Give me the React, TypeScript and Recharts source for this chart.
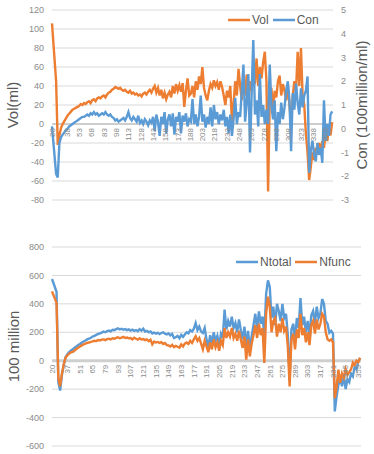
import React from 'react';
import { LineChart, Line, XAxis, YAxis, CartesianGrid, ReferenceLine, Legend, Label } from 'recharts';

// Category (day) values
const days = [
  20, 25, 27, 29, 31, 33, 35, 37, 39, 41,
  43, 45, 47, 49, 51, 53, 55, 57, 59, 61,
  63, 65, 67, 69, 71, 73, 75, 77, 79, 81,
  83, 85, 87, 89, 91, 93, 95, 97, 99, 101,
  103, 105, 107, 109, 111, 113, 115, 117, 119, 121,
  123, 125, 127, 129, 131, 133, 135, 137, 139, 141,
  143, 145, 147, 149, 151, 153, 155, 157, 159, 161,
  163, 165, 167, 169, 171, 173, 175, 177, 179, 181,
  183, 185, 187, 189, 191, 193, 195, 197, 199, 201,
  203, 205, 207, 209, 211, 213, 215, 217, 219, 221,
  223, 225, 227, 229, 231, 233, 235, 237, 239, 241,
  243, 245, 247, 249, 251, 253, 255, 257, 259, 261,
  263, 265, 267, 269, 271, 273, 275, 277, 279, 281,
  283, 285, 287, 289, 291, 293, 295, 297, 299, 301,
  303, 305, 307, 309, 311, 313, 315, 317, 319, 321,
  323, 325, 327, 329, 331, 333, 335, 337, 339, 341,
  343, 345, 347, 349, 351, 353, 355, 357, 359, 361,
];

// Vol (ml), left axis of the upper chart
const vol = [
  106, 45, -22, -12, -4, 0, 3, 6, 9, 11,
  13, 15, 16, 17, 18, 19, 21, 20, 22, 21,
  23, 24, 22, 25, 26, 24, 27, 28, 27, 29,
  30, 28, 31, 33, 34, 36, 37, 39, 38, 37,
  38, 36, 35, 36, 34, 33, 35, 32, 33, 31,
  32, 30, 31, 29, 32, 33, 31, 34, 36, 33,
  37, 40, 33, 38, 30, 36, 27, 33, 26, 31,
  34, 28, 40, 32, 42, 35, 41, 34, 43, 18,
  35, 48, 30,
  32, 40, 28, 45, 36, 50, 42, 60, 38, 30,
  25, 35, 42, 38, 46, 40, 44, 36, 45, 39,
  30, 20, 35, 28, 40, 2, 22, 45, 30, 58,
  40, 25, 48, 30, 52, 20, 45, 35, 55, 42,
  69, 40, 60, 48, 65, 76, 45, -71, 25, 38,
  15, 35, 28, 45, 51, 30, 42, 35, 25, 40,
  20, -1, 30, 45, 35, 76, 40, 80, 30, 20,
  -10, -30, -59, -45, -30, -38, -25, -32, -20, -28,
  -18, -25, -10, -18, -5, -12, 2,
];

// Con (100million/ml), right axis of the upper chart
const con = [
  0.1, -1.9, -2.05, -0.6, -0.35, -0.25, -0.15, -0.05, 0, 0.1,
  0.15, 0.2, 0.25, 0.3, 0.35, 0.4, 0.45, 0.5, 0.5, 0.55,
  0.6, 0.55, 0.65, 0.6, 0.7, 0.6, 0.65, 0.55, 0.6, 0.65,
  0.6, 0.7, 0.6, 0.55, 0.6, 0.5, 0.45, 0.35, 0.4, 0.3,
  0.35, 0.4, 0.45, 0.35, 0.5, 0.7, 0.45, 0.35, 0.5, 0.4,
  0.3, 0.55, 0.25, 0.35, 0.2, 0.4, 0.3, 0.15, 0.35, 0.25,
  0.5, -0.1, 0.6, 0.3, -0.3, 0.5, 0.2, 0.7, -0.2, 0.4,
  0.6, 0.1, 0.65, -0.25, 0.5, 0.3, 0.7, -0.2, 0.55, 0.3,
  0.65, 0.1, 0.4,
  0.3, 1.25, 0.2, 0.6, 0.1, 0.5, 1.4, 0.3, 0.6, 0.05,
  0.5, 0.2, 0.9, 0.1, 1.0, 0.4, 0.7, 0.2, 0.6, 0.35,
  0.8, 0.1, 0.5, -0.2, 0.6, -0.3, 0.4, 1.3, 0.2, 0.7,
  0.5, 1.6, 2.7, 0.3, 1.1, 2.3, -1.0, 1.5, 3.74, 0.6,
  1.2, 0.1, 2.3, 0.5, 1.0, 0.2, 0.8, 0.2, 2.7, 1.0,
  0.4, 1.2, -0.95, 0.7, 0.2, 1.1, 0.4, 0.9, 1.6, 2.0,
  1.2, -0.95, 1.5, 0.8, 1.9, 1.1, 0.6, 1.7, 0.9, 1.4,
  1.6, 2.2, -1.85, -0.9, -0.5, -1.1, -1.37, -0.6, -1.1, -0.8,
  -1.44, 1.2, -0.5, 0.2, -0.3, 0.6, 0.73,
];

// Ntotal (100 million), lower chart
const ntotal = [
  575, 485, -150, -210, -100, -30, 25, 45, 60, 72,
  80, 92, 100, 110, 118, 128, 135, 142, 150, 155,
  162, 170, 175, 182, 188, 192, 198, 205, 200, 208,
  212, 206, 218, 215, 222, 228, 220, 225, 218, 222,
  215, 220, 212, 218, 210, 216, 208, 222, 212, 225,
  205, 210, 200, 206, 192, 198, 190, 196, 188, 195,
  200, 190, 185, 192, 178, 188, 160, 165, 175, 158,
  182, 168, 185, 200, 192, 215, 205, 225, 265, 215,
  240, 205, 195, 230,
  150, 95, 180, 120, 200, 140, 175, 110, 190, 160,
  359, 220, 280, 240, 310, 230, 265, 200, 290, 215,
  150, 240, 100, 210, 80, 175, 250, 330, 220, 347,
  260, 310, 180, 470, 565, 520, 300, 380, 250, 400,
  350, 280, 400, 300, 330, 180, -140, 220, 260, 150,
  300, 230, 441, 250, 310, 200, 280, 180, 320, 350,
  260, 380, 300, 330, 434, 400, 280, 260, 197, 210,
  190, -357, -250, -170, -120, -180, -100, -200, -130, -150,
  -90, -110, -40, -60, -5, 19,
];

// Nfunc (100 million), lower chart
const nfunc = [
  488, 408, -120, -180, -90, -25, 20, 38, 50, 58,
  62, 72, 82, 92, 100, 108, 115, 120, 125, 128,
  133, 136, 140, 138, 145, 142, 148, 150, 145, 152,
  155, 150, 158, 154, 160, 165, 158, 162, 168, 160,
  163, 158, 160, 150, 162, 155, 148, 158, 150, 152,
  145, 150, 138, 148, 115, 135, 128, 132, 125, 130,
  118, 125, 110, 108, 100, 112, 95, 104, 98, 92,
  115, 100, 120, 128, 118, 140, 125, 150, 172, 140,
  160, 120, 80, 140,
  100, 60, 130, 80, 150, 95, 130, 70, 140, 110,
  230, 160, 200, 170, 230, 160, 190, 140, 210, 150,
  90, 170, 7, 150, 30, 120, 180, 250, 160, 260,
  180, 230, -16, 330, 450, 380, 200, 280, 300, 170,
  260, 200, 300, 210, 240, 100, -181, 150, 190, 80,
  220, 160, 330, 180, 230, 130, 200, 110, 250, 280,
  190, 290, 220, 260, 330, 310, 200, 150, 140, 150,
  130, -263, -180, -63, -155, -90, -120, -60, -100, -80,
  -60, -14, -30, 0, -10, 21,
];

// Tick labels
const topXTicks = [20, 38, 53, 68, 83, 98, 113, 128, 143, 158, 173, 188, 203, 218, 233, 248, 263, 278, 293, 308, 323, 338, 353];
const bottomXTicks = [20, 37, 51, 65, 79, 93, 107, 121, 135, 149, 163, 177, 191, 205, 219, 233, 247, 261, 275, 289, 303, 317, 331, 345, 359];
const volTicks = [-80, -60, -40, -20, 0, 20, 40, 60, 80, 100, 120];
const conTicks = [-3, -2, -1, 0, 1, 2, 3, 4, 5];
const nTicks = [-600, -400, -200, 0, 200, 400, 600, 800];
const topSeries = ['Vol', 'Con'];
const bottomSeries = ['Ntotal', 'Nfunc'];

const topData = days.map((d, i) => ({ day: d, Vol: vol[i], Con: con[i] }));
const bottomData = days.map((d, i) => ({ day: d, Ntotal: ntotal[i], Nfunc: nfunc[i] }));

const FONT = '"Liberation Sans", Arial, sans-serif';
const ORANGE = '#ED7D31';
const BLUE = '#5B9BD5';
const GRID = '#d9d9d9';
const TICK = '#8a8a8a';
const TITLE = '#595959';
const LINE_W = 2.4;

// layout
const TOP = { h: 230, mt: 10, xh: 30 };
const BOT = { h: 224, mt: 17, xh: 8 };

function zeroPos(cfg: any, min: number, max: number) {
  const plotH = cfg.h - cfg.mt - cfg.xh;
  return cfg.mt + (plotH * max) / (max - min);
}

function makeXTick(zeroY: number) {
  return (props: any) => {
    const { x, payload } = props;
    const y = zeroY + 4;
    return (
      <text
        x={x}
        y={y}
        transform={`rotate(-90, ${x}, ${y})`}
        textAnchor="end"
        dy="0.35em"
        fontSize={8}
        fill={TICK}
        fontFamily={FONT}
      >
        {payload.value}
      </text>
    );
  };
}

function axisTitle(value: string, xOff: number) {
  return (props: any) => {
    const vb = props.viewBox || { x: 0, y: 0, width: 0, height: 0 };
    const cx = vb.x + xOff;
    const cy = vb.y + vb.height / 2;
    return (
      <text
        x={cx}
        y={cy}
        transform={`rotate(-90, ${cx}, ${cy})`}
        textAnchor="middle"
        dy="0.35em"
        fontSize={15}
        fill={TITLE}
        fontFamily={FONT}
      >
        {value}
      </text>
    );
  };
}

function makeLegend(order: string[]) {
  return (props: any) => {
    const items = [...(props.payload || [])].sort(
      (a: any, b: any) => order.indexOf(a.value) - order.indexOf(b.value)
    );
    return (
      <div style={{ display: 'flex', alignItems: 'center', fontFamily: FONT, fontSize: 12, color: TITLE, lineHeight: '14px', whiteSpace: 'nowrap' }}>
        {items.map((it: any) => (
          <span key={it.value} style={{ display: 'flex', alignItems: 'center', marginRight: 4 }}>
            <svg width={22} height={6} style={{ display: 'block' }}>
              <line x1={0} y1={3} x2={22} y2={3} stroke={it.color} strokeWidth={2.5} />
            </svg>
            <span style={{ marginLeft: 2 }}>{it.value}</span>
          </span>
        ))}
      </div>
    );
  };
}

const tickStyle = { fontSize: 9, fill: TICK, fontFamily: FONT };

export default function App() {
  const topZero = zeroPos(TOP, -80, 120);
  const botZero = zeroPos(BOT, -600, 800);
  return (
    <div style={{ position: 'absolute', left: 0, top: 0, width: 374, height: 454, background: '#fff' }}>
      <div style={{ position: 'absolute', left: 0, top: 0 }}>
        <LineChart width={374} height={TOP.h} data={topData} margin={{ top: TOP.mt, right: 0, bottom: 0, left: 0 }}>
          <CartesianGrid vertical={false} stroke={GRID} yAxisId="left" />
          <XAxis
            dataKey="day"
            type="number"
            domain={[20, 362]}
            ticks={topXTicks}
            interval={0}
            height={TOP.xh}
            axisLine={false}
            tickLine={false}
            tick={makeXTick(topZero)}
          />
          <YAxis
            yAxisId="left"
            domain={[-80, 120]}
            ticks={volTicks}
            interval={0}
            width={52}
            axisLine={false}
            tickLine={false}
            tick={tickStyle}
          >
            <Label content={axisTitle('Vol(ml)', 13)} />
          </YAxis>
          <YAxis
            yAxisId="right"
            orientation="right"
            domain={[-3, 5]}
            ticks={conTicks}
            interval={0}
            width={41}
            axisLine={false}
            tickLine={false}
            tick={tickStyle}
          >
            <Label content={axisTitle('Con (100million/ml)', 29)} />
          </YAxis>
          <ReferenceLine y={0} yAxisId="left" stroke="#c4c4c4" strokeWidth={1.5} />
          <Legend
            layout="vertical"
            align="center"
            verticalAlign="middle"
            wrapperStyle={{ left: 228, top: 13, width: 140, height: 14 }}
            content={makeLegend(topSeries)}
          />
          <Line yAxisId="left" dataKey="Vol" name="Vol" stroke={ORANGE} strokeWidth={LINE_W} dot={false} isAnimationActive={false} type="linear" />
          <Line yAxisId="right" dataKey="Con" name="Con" stroke={BLUE} strokeWidth={LINE_W} dot={false} isAnimationActive={false} type="linear" />
        </LineChart>
      </div>
      <div style={{ position: 'absolute', left: 0, top: 230 }}>
        <LineChart width={374} height={BOT.h} data={bottomData} margin={{ top: BOT.mt, right: 13, bottom: 0, left: 0 }}>
          <CartesianGrid vertical={false} stroke={GRID} />
          <XAxis
            dataKey="day"
            type="number"
            domain={[20, 362]}
            ticks={bottomXTicks}
            interval={0}
            height={BOT.xh}
            axisLine={false}
            tickLine={false}
            tick={makeXTick(botZero)}
          />
          <YAxis
            domain={[-600, 800]}
            ticks={nTicks}
            interval={0}
            width={52}
            axisLine={false}
            tickLine={false}
            tick={tickStyle}
          >
            <Label content={axisTitle('100 million', 14)} />
          </YAxis>
          <ReferenceLine y={0} stroke="#cfcfcf" strokeWidth={3} />
          <Legend
            layout="vertical"
            align="center"
            verticalAlign="middle"
            wrapperStyle={{ left: 236, top: 25, width: 130, height: 14 }}
            content={makeLegend(bottomSeries)}
          />
          <Line dataKey="Ntotal" name="Ntotal" stroke={BLUE} strokeWidth={LINE_W} dot={false} isAnimationActive={false} type="linear" />
          <Line dataKey="Nfunc" name="Nfunc" stroke={ORANGE} strokeWidth={LINE_W} dot={false} isAnimationActive={false} type="linear" />
        </LineChart>
      </div>
    </div>
  );
}
